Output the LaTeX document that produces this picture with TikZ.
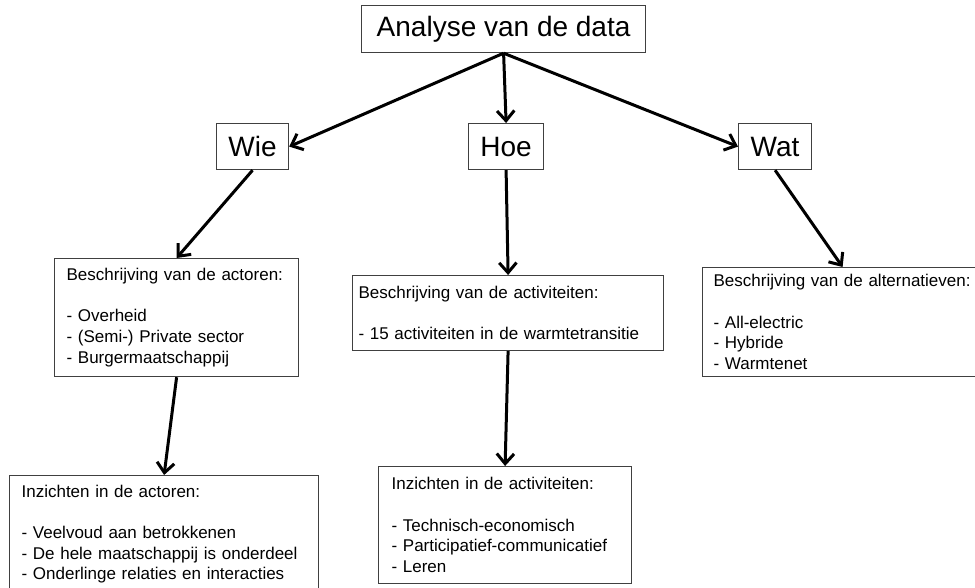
\documentclass[tikz,border=0pt]{standalone}
\usepackage{fontspec}
\setmainfont{Liberation Sans}
\usetikzlibrary{arrows.meta}
\begin{document}
\begin{tikzpicture}[x=0.75pt,y=-0.75pt,
  box/.style={draw=black!75, line width=0.9pt, anchor=north west, inner sep=0pt, fill=white},
  bigbox/.style={box, font=\fontsize{21}{25}\selectfont, align=center},
  txtbox/.style={box, font=\fontsize{12.75}{15.5}\selectfont, align=left},
  arr/.style={line width=2.25pt, -{Straight Barb[length=7.5pt,width=13pt]}}
]
\fill[white] (0,0) rectangle (975,588);
\clip (0,0) rectangle (975,588);
\node[bigbox, minimum width=213pt, minimum height=35.25pt] (top) at (361,5) {Analyse van de data};
\node[bigbox, minimum width=54pt, minimum height=34.5pt] (wie) at (216,123) {Wie};
\node[bigbox, minimum width=56.25pt, minimum height=34.5pt] (hoe) at (468,123) {Hoe};
\node[bigbox, minimum width=54.75pt, minimum height=34.5pt] (wat) at (738,123) {Wat};
\node[txtbox, inner xsep=9pt, text width=165pt, minimum height=88.5pt] (act) at (54,258)
  {Beschrijving van de actoren:\\[15.5pt]- Overheid\\- (Semi-) Private sector\\- Burgermaatschappij};
\node[txtbox, inner xsep=4.5pt, text width=224.25pt, minimum height=56.25pt] (acti) at (352,275)
  {Beschrijving van de activiteiten:\\[15.5pt]- 15 activiteiten in de warmtetransitie};
\node[txtbox, inner xsep=8.25pt, text width=193.5pt, minimum height=81.75pt] (alt) at (702,267)
  {Beschrijving van de alternatieven:\\[15.5pt]- All-electric\\- Hybride\\- Warmtenet};
\node[txtbox, inner xsep=9pt, text width=213.75pt, minimum height=87.75pt] (inzact) at (9,475)
  {Inzichten in de actoren:\\[15.5pt]- Veelvoud aan betrokkenen\\- De hele maatschappij is onderdeel\\- Onderlinge relaties en interacties};
\node[txtbox, inner xsep=9.75pt, text width=170.25pt, minimum height=87.75pt] (inzacti) at (378,466)
  {Inzichten in de activiteiten:\\[15.5pt]- Technisch-economisch\\- Participatief-communicatief\\- Leren};
\draw[arr] (top.south) -- (wie.east);
\draw[arr] (top.south) -- (hoe.north);
\draw[arr] (top.south) -- (wat.west);
\draw[arr] (wie.south) -- (act.north);
\draw[arr] (hoe.south) -- (acti.north);
\draw[arr] (wat.south) -- (alt.north);
\draw[arr] (act.south) -- (inzact.north);
\draw[arr] (acti.south) -- (inzacti.north);
\end{tikzpicture}
\end{document}
